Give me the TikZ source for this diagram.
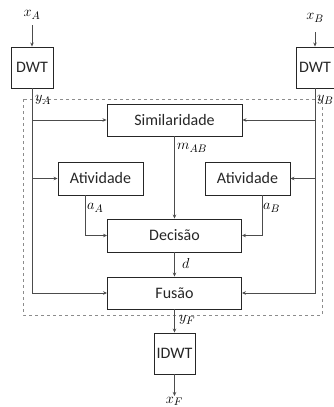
\documentclass[tikz,border=0pt]{standalone}
\usepackage{fontspec}
\setmainfont{Carlito}
\usetikzlibrary{arrows.meta}
\begin{document}
\begin{tikzpicture}[x=1pt,y=-1pt,
  blk/.style={draw=black!85,line width=0.9pt,inner sep=0pt,font=\fontsize{16}{18}\selectfont,text=black!85},
  con/.style={draw=black!70,line width=0.9pt,-{Stealth[length=4pt,width=3.5pt]}},
  lbl/.style={inner sep=0pt,font=\fontsize{15}{17}\selectfont},
  frame/.style={draw=black!45,dashed,line width=0.8pt}]
\useasboundingbox (0,0) rectangle (334,407);
% frame
\draw[frame] (23,99) rectangle (322,315);
% blocks
\node[blk,minimum width=42pt,minimum height=41pt] (dwtA) at (32,67.5) {DWT};
\node[blk,minimum width=38pt,minimum height=41pt] (dwtB) at (315,67.5) {DWT};
\node[blk,minimum width=135pt,minimum height=32pt] (sim) at (174.5,120) {Similaridade};
\node[blk,minimum width=85pt,minimum height=33pt] (atvA) at (100.5,178.5) {Atividade};
\node[blk,minimum width=85pt,minimum height=33pt] (atvB) at (247.5,178.5) {Atividade};
\node[blk,minimum width=134pt,minimum height=33pt] (dec) at (174.5,235.5) {Decisão};
\node[blk,minimum width=134pt,minimum height=32pt] (fus) at (174.5,293) {Fusão};
\node[blk,minimum width=41pt,minimum height=41pt] (idwt) at (174.5,353.5) {IDWT};
% labels
\node[lbl] (xA) at (32,15) {$x_A$};
\node[lbl] (xB) at (315,18) {$x_B$};
\node[lbl,anchor=west] (yA) at (35,100) {$y_A$};
\node[lbl,anchor=west] (yB) at (317,100) {$y_B$};
\node[lbl,anchor=west] (mAB) at (177,148) {$m_{AB}$};
\node[lbl,anchor=west] (aA) at (87,208) {$a_A$};
\node[lbl,anchor=west] (aB) at (263,208) {$a_B$};
\node[lbl,anchor=west] (dl) at (182,263) {$d$};
\node[lbl,anchor=west] (yF) at (179,320) {$y_F$};
\node[lbl,anchor=south] (xF) at (174.5,406) {$x_F$};
% coordinates
\coordinate (xAs) at (32,25);
\coordinate (xBs) at (315,32);
\coordinate (xFe) at (174.5,396);
% connectors
\draw[con] (xAs) -- (dwtA.north);
\draw[con] (xBs) -- (dwtB.north);
\draw[con] (dwtA.south) |- (fus.west);
\draw[con] (dwtA.south |- sim.west) -- (sim.west);
\draw[con] (dwtA.south |- atvA.west) -- (atvA.west);
\draw[con] (dwtB.south) |- (fus.east);
\draw[con] (dwtB.south |- sim.east) -- (sim.east);
\draw[con] (dwtB.south |- atvB.east) -- (atvB.east);
\draw[con] ([xshift=-15.5pt]atvA.south) |- (dec.west);
\draw[con] ([xshift=14.5pt]atvB.south) |- (dec.east);
\draw[con] (sim.south) -- (dec.north);
\draw[con] (dec.south) -- (fus.north);
\draw[con] (fus.south) -- (idwt.north);
\draw[con] (idwt.south) -- (xFe);
\end{tikzpicture}
\end{document}
